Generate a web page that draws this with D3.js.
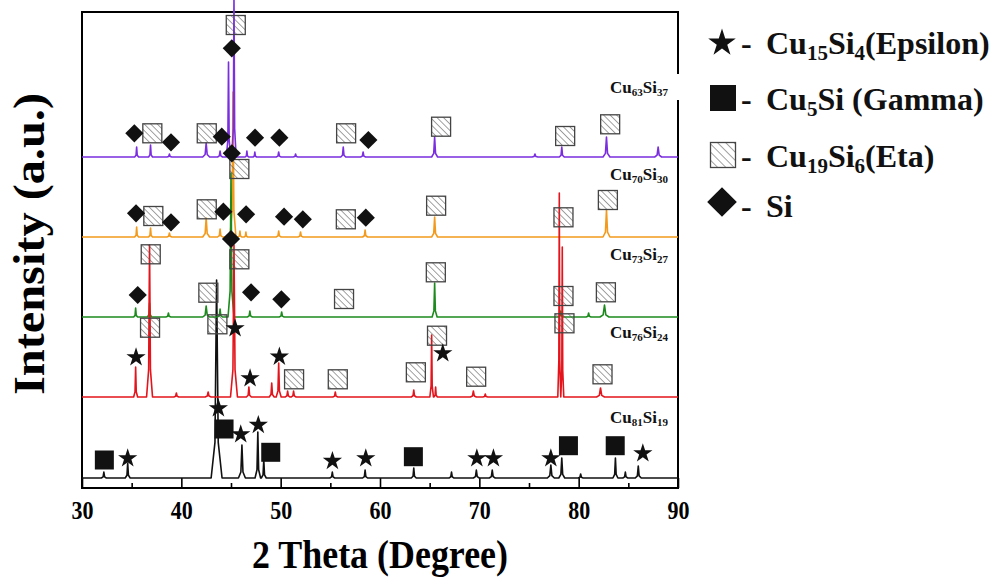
<!DOCTYPE html>
<html>
<head>
<meta charset="utf-8">
<script src="https://cdn.jsdelivr.net/npm/d3@7"></script>
<style>
  body { margin: 0; background: #fff; }
  svg { display: block; }
  text { font-family: "Liberation Serif", "Times New Roman", serif; font-weight: bold; }
</style>
</head>
<body>
<script>
// ---- data ----
const xTicks = [30, 40, 50, 60, 70, 80, 90];
const xMinor = [35, 45, 55, 65, 75, 85];

// baseline offset of each pattern (a.u.)
const offsets = [10, 91, 171, 251, 331];
const colors = ["#111111", "#e3141b", "#1d8a1d", "#f39a1d", "#7a2ee0"];
const sampleLabels = [["Cu", "81", "Si", "19"], ["Cu", "76", "Si", "24"], ["Cu", "73", "Si", "27"], ["Cu", "70", "Si", "30"], ["Cu", "63", "Si", "37"]];
const labelBaselines = [423, 338, 260, 180, 93];

// peaks: [2theta, height above baseline, half width]
const cu81Peaks = [[32.2, 6, 0.25], [34.6, 15, 0.25], [43.55, 198, 0.55], [46.1, 33, 0.35], [47.7, 46, 0.28], [48.3, 18, 0.25],
  [55.2, 6, 0.25], [58.5, 8, 0.25], [63.4, 10, 0.25], [67.2, 6, 0.25], [69.7, 8, 0.3], [71.3, 8, 0.3], [77.2, 13, 0.35],
  [78.3, 20, 0.3], [80.2, 4, 0.25], [83.7, 20, 0.25], [84.7, 6, 0.25], [86.0, 12, 0.3]];
const cu76Peaks = [[35.4, 30, 0.2], [36.8, 152, 0.3], [39.5, 4, 0.25], [42.7, 5, 0.3], [45.3, 152, 0.35], [46.8, 10, 0.25],
  [49.1, 14, 0.25], [49.8, 34, 0.25], [50.7, 6, 0.25], [51.3, 6, 0.25], [55.5, 5, 0.25], [63.4, 7, 0.25], [65.2, 62, 0.18],
  [65.6, 10, 0.18], [69.4, 6, 0.3], [70.6, 3, 0.25], [78.05, 204, 0.15], [78.35, 150, 0.15], [82.2, 9, 0.4]];
const cu73Peaks = [[35.4, 9, 0.2], [36.8, 14, 0.2], [38.7, 4, 0.25], [42.5, 11, 0.35], [43.9, 8, 0.25], [45.0, 144, 0.3],
  [46.9, 6, 0.25], [50.1, 5, 0.25], [65.5, 34, 0.25], [78.2, 6, 0.25], [81.0, 4, 0.25], [82.6, 12, 0.45]];
const cu70Peaks = [[35.5, 10, 0.2], [36.9, 9, 0.2], [38.8, 4, 0.25], [42.5, 19, 0.35], [43.9, 8, 0.25], [45.2, 145, 0.3],
  [45.9, 6, 0.18], [46.5, 5, 0.18], [49.8, 6, 0.25], [52.0, 5, 0.25], [58.5, 7, 0.25], [65.5, 20, 0.3], [82.8, 27, 0.35]];
const cu63Peaks = [[35.5, 10, 0.2], [36.9, 12, 0.2], [38.8, 3, 0.25], [42.5, 14, 0.35], [43.9, 6, 0.25], [44.75, 95, 0.22],
  [45.3, 160, 0.22], [46.6, 6, 0.18], [47.4, 5, 0.18], [49.8, 5, 0.25], [51.5, 3, 0.25], [56.3, 10, 0.25], [58.3, 5, 0.25],
  [65.5, 20, 0.3], [75.6, 3, 0.3], [78.3, 10, 0.25], [82.8, 20, 0.35], [88.0, 10, 0.35]];
const allPeaks = [cu81Peaks, cu76Peaks, cu73Peaks, cu70Peaks, cu63Peaks];

// phase markers: [2theta, intensity]
const epsilonMarks = [[35.44, 130.7], [45.41, 159.7], [46.92, 109.7], [49.87, 131.3], [66.32, 134.7], [43.73, 79.7],
  [45.98, 53.7], [47.75, 63], [34.6, 29.7], [55.21, 27], [58.57, 29.7], [69.75, 29.7], [71.42, 29.7], [77.2, 29.7], [86.46, 34.7]];
const gammaMarks = [[32.25, 28], [44.3, 59], [49.0, 35.7], [63.36, 31.3], [78.97, 42.3], [83.68, 42.3]];
const etaMarks = [[45.48, 463], [37.08, 354.7], [42.56, 354.7], [56.59, 354.7], [66.15, 361.3], [78.64, 352], [83.17, 363.7],
  [45.84, 319], [37.18, 272], [42.56, 278.7], [56.56, 268.7], [65.65, 282.3], [78.47, 270.7], [82.94, 288],
  [36.92, 233.7], [45.84, 228.7], [42.72, 195.3], [56.38, 189], [65.62, 215.7], [78.47, 192], [82.74, 195.7],
  [36.85, 160.3], [43.63, 163.7], [78.57, 164.7], [65.74, 152.3], [63.61, 115.7], [69.68, 111.3], [82.4, 113.7],
  [51.35, 108.7], [55.75, 108.7]];
const siMarks = [[45.08, 439.7], [35.27, 354.7], [38.96, 345.7], [44.07, 351.3], [45.08, 334.7], [47.42, 350.3], [49.87, 350.3],
  [58.83, 348], [35.44, 274.7], [38.96, 265.7], [44.23, 276.3], [46.52, 273.7], [50.34, 271.3], [52.23, 268.7],
  [58.57, 270.3], [45.0, 249], [35.61, 193], [47.02, 195.7], [50.07, 188.7]];

const legendItems = [["Cu", "15", "Si", "4", "(Epsilon)"], ["Cu", "5", "Si (Gamma)"], ["Cu", "19", "Si", "6", "(Eta)"], ["Si"]];
const legendKinds = ["star", "square", "hatch", "diamond"];

// ---- chart ----
const W = 995, H = 579;
const svg = d3.select("body").append("svg").attr("width", W).attr("height", H);

const x = d3.scaleLinear().domain([30, 90]).range([82, 678]);
const y = d3.scaleLinear().domain([0, 476]).range([488, 12]);

const defs = svg.append("defs");
function hatch(id, step) {
  const p = defs.append("pattern").attr("id", id).attr("patternUnits", "userSpaceOnUse")
    .attr("width", step).attr("height", step).attr("patternTransform", "rotate(-45)");
  p.append("line").attr("x1", 0).attr("y1", 0).attr("x2", 0).attr("y2", step)
    .attr("stroke", "#555").attr("stroke-width", 1.1);
}
hatch("hatchS", 4.6);
hatch("hatchL", 5.8);

// frame
svg.append("rect").attr("x", x(30)).attr("y", y(476)).attr("width", x(90) - x(30)).attr("height", y(0) - y(476))
  .attr("fill", "none").attr("stroke", "#000").attr("stroke-width", 2);

// axis ticks (pointing inward)
const axisG = svg.append("g").attr("transform", `translate(0,${y(0)})`);
axisG.call(d3.axisBottom(x).tickValues(xTicks).tickSizeInner(-10).tickSizeOuter(0).tickPadding(0));
axisG.select(".domain").remove();
axisG.selectAll("line").attr("stroke", "#000").attr("stroke-width", 1.6);
axisG.selectAll("text").attr("y", 31).attr("dy", 0).attr("fill", "#000")
  .style("font-size", "25px").attr("textLength", 22).attr("lengthAdjust", "spacingAndGlyphs");
const minorG = svg.append("g").attr("transform", `translate(0,${y(0)})`);
minorG.call(d3.axisBottom(x).tickValues(xMinor).tickSizeInner(-5).tickSizeOuter(0).tickFormat(""));
minorG.select(".domain").remove();
minorG.selectAll("line").attr("stroke", "#000").attr("stroke-width", 1.6);

// axis titles
svg.append("text").attr("x", 380).attr("y", 568).attr("text-anchor", "middle")
  .style("font-size", "40px").attr("textLength", 256).attr("lengthAdjust", "spacingAndGlyphs")
  .text("2 Theta (Degree)");
svg.append("text").attr("transform", "translate(44,244) rotate(-90)").attr("text-anchor", "middle")
  .style("font-size", "45px").attr("textLength", 302).attr("lengthAdjust", "spacingAndGlyphs")
  .text("Intensity (a.u.)");

// patterns: each peak is drawn as a narrow spike with a wider foot
function tracePoints(peaks, base) {
  const pts = [[30, base]];
  peaks.slice().sort((a, b) => a[0] - b[0]).forEach(([p, h, w]) => {
    pts.push([p - w, base], [p - w * 0.3, base + h * 0.18], [p, base + h], [p + w * 0.3, base + h * 0.18], [p + w, base]);
  });
  pts.push([90, base]);
  return pts;
}
const line = d3.line().x(d => x(d[0])).y(d => y(d[1]));
const drawOrder = [0, 3, 2, 1, 4];
drawOrder.forEach(i => {
  svg.append("path").datum(tracePoints(allPeaks[i], offsets[i]))
    .attr("d", line).attr("fill", "none").attr("stroke", colors[i])
    .attr("stroke-width", 1.6).attr("stroke-linejoin", "round");
});

// sample labels
function formula(g, parts, px, py, size, subSize, drop) {
  const t = g.append("text").attr("x", px).attr("y", py).style("font-size", size + "px").attr("fill", "#111");
  let down = false;
  parts.forEach((s, k) => {
    const isSub = k % 2 === 1;
    const ts = t.append("tspan").text(s);
    if (isSub) { ts.style("font-size", subSize + "px").attr("dy", drop); down = true; }
    else if (down) { ts.attr("dy", -drop); down = false; }
  });
  return t;
}
svg.append("rect").attr("x", 606).attr("y", 74).attr("width", 76).attr("height", 26).attr("fill", "#fff");
sampleLabels.forEach((parts, i) => {
  formula(svg, parts, 610, labelBaselines[i], 17, 11, 3);
});

// markers
function star(g, cx, cy, size) {
  g.append("path").attr("d", d3.symbol(d3.symbolStar, size)()).attr("transform", `translate(${cx},${cy})`).attr("fill", "#111");
}
function square(g, cx, cy, s) {
  g.append("rect").attr("x", cx - s / 2).attr("y", cy - s / 2).attr("width", s).attr("height", s).attr("fill", "#111");
}
function hatchSquare(g, cx, cy, s, pat) {
  g.append("rect").attr("x", cx - s / 2).attr("y", cy - s / 2).attr("width", s).attr("height", s)
    .attr("fill", `url(#${pat})`).attr("stroke", "#444").attr("stroke-width", 1.3);
}
function diamond(g, cx, cy, size) {
  g.append("path").attr("d", d3.symbol(d3.symbolSquare, size)()).attr("transform", `translate(${cx},${cy}) rotate(45)`).attr("fill", "#111");
}
const mk = svg.append("g");
etaMarks.forEach(d => hatchSquare(mk, x(d[0]), y(d[1]), 19, "hatchS"));
gammaMarks.forEach(d => square(mk, x(d[0]), y(d[1]), 19));
siMarks.forEach(d => diamond(mk, x(d[0]), y(d[1]), 165));
epsilonMarks.forEach(d => star(mk, x(d[0]), y(d[1]), 115));

// legend
const lg = svg.append("g");
const legY = [43, 98, 155, 202];
const legBase = [54, 110, 167, 217];
legendItems.forEach((parts, i) => {
  const kind = legendKinds[i];
  if (kind === "star") star(lg, 722, legY[i], 235);
  if (kind === "square") square(lg, 723, legY[i], 26);
  if (kind === "hatch") hatchSquare(lg, 723, legY[i], 25, "hatchL");
  if (kind === "diamond") diamond(lg, 722, legY[i], 440);
  lg.append("text").attr("x", 741).attr("y", legBase[i]).style("font-size", "32px").attr("fill", "#111").text("-");
  formula(lg, parts, 766, legBase[i], 32, 21, 6);
});
</script>
</body>
</html>
